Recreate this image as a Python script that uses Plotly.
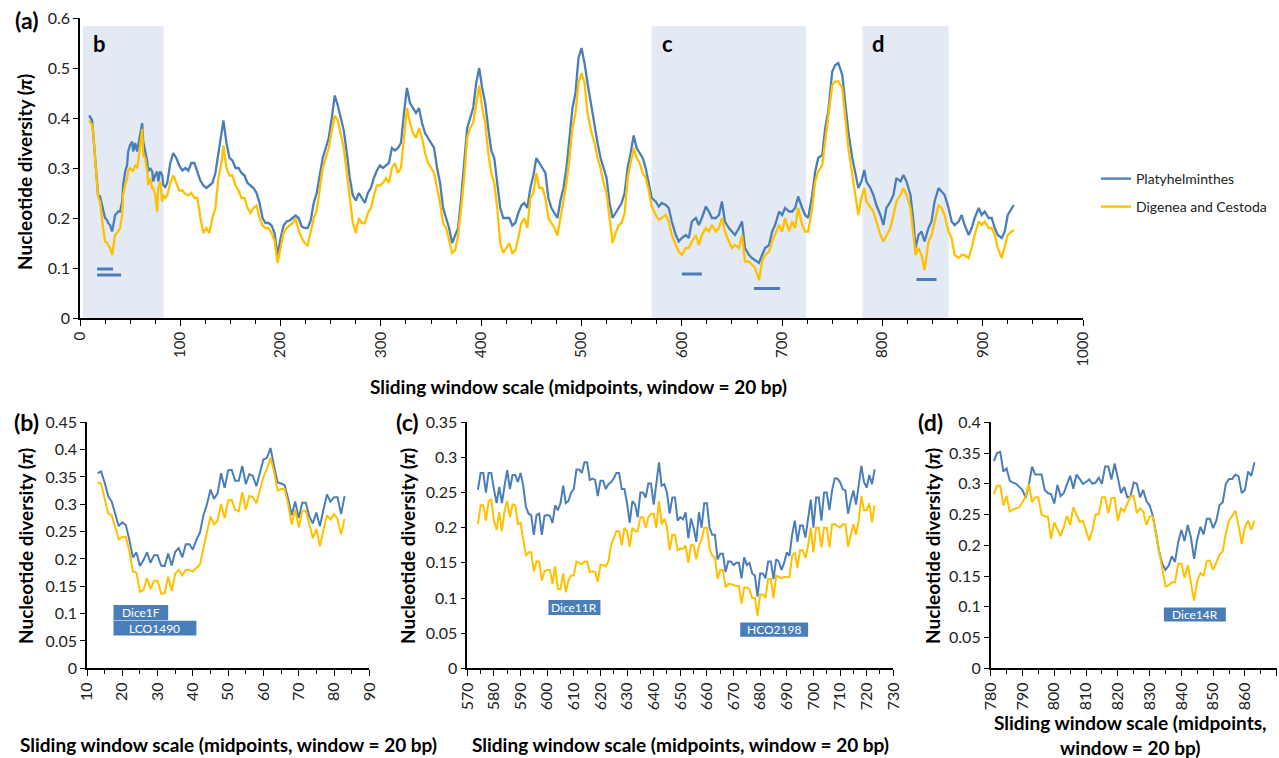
import plotly.graph_objects as go

W, H = 1279, 758
FONT = "Lato, sans-serif"
BLUE = "#4A7EBB"
GOLD = "#FFC000"
SHADE = "#E4EAF4"

series_names = ["Platyhelminthes", "Digenea and Cestoda"]

# ---------------- Panel (a): full alignment ----------------
a_x = [9, 12, 13, 15, 17, 18, 20, 22, 23, 25, 27, 28, 30, 32, 33, 35, 37, 38, 40, 42,
       43, 45, 47, 48, 50, 52, 53, 55, 57, 58, 60, 62, 63, 65, 67, 68, 70, 72, 73, 75,
       77, 78, 80, 82, 83,
       85, 87, 90, 93, 96, 99, 102, 105, 108, 111, 114, 117, 120, 123, 126, 129, 132, 135, 138, 141,
       143, 146, 149, 152, 155, 158, 161, 164, 167, 170, 173, 176, 179, 182, 185, 188, 191, 194, 197, 200,
       203, 206, 209, 212, 215, 218, 221, 224, 227, 230, 233, 236, 239, 242, 245, 248, 251, 254,
       257, 260, 263, 266, 269, 272, 275, 278, 281, 284, 287, 290, 293, 296, 299, 302, 305, 308, 311, 314,
       317, 320, 323, 326, 329, 332, 335, 338, 341, 344, 347, 350, 353, 356, 359, 362, 365, 368, 371, 374,
       377, 380, 383, 386, 389, 392, 395, 398, 401, 404, 407, 410, 413, 416, 419, 422, 425, 428, 431, 434,
       437, 440, 443, 446, 449, 452, 455, 458, 461, 464, 467, 470, 473, 476, 479, 482, 485, 488, 491, 494,
       497, 500, 503, 506,
       510, 513, 516, 519, 522, 525, 528, 531, 534, 537, 540, 543, 546, 549, 552, 555, 558, 561, 564, 567,
       570, 574, 577, 580, 584, 587, 590, 594, 597, 600, 604, 607, 610, 614, 617, 620, 624, 627, 630, 634,
       637, 640, 643, 647, 650, 653, 657, 660, 663, 667, 670, 673, 677, 680, 683, 687, 690, 693, 697, 700,
       703, 707, 710, 713, 716, 720, 723, 726, 730, 733, 736, 740, 743, 746, 750, 753, 756,
       760, 763, 766, 770, 773, 776, 779, 782, 784, 788, 791, 794, 798, 801, 804, 808, 811, 814, 818, 821,
       824, 828, 831, 833, 836, 839, 842, 846, 849, 852, 856, 859, 862, 866, 869, 872, 876, 879, 882, 886,
       889, 892, 896, 899, 902, 906, 909, 912, 915, 919, 922, 925, 929, 931]

a_platy = [0.405, 0.396, 0.373, 0.326, 0.286, 0.246, 0.243, 0.226, 0.213, 0.2,
           0.196, 0.19, 0.186, 0.173, 0.183, 0.206, 0.21, 0.213, 0.213, 0.233,
           0.266, 0.293, 0.306, 0.333, 0.346, 0.353, 0.333, 0.35, 0.333, 0.346,
           0.373, 0.39, 0.353, 0.333, 0.313, 0.293, 0.3, 0.293, 0.273, 0.286,
           0.293, 0.273, 0.293, 0.286, 0.266,
           0.262, 0.27, 0.31, 0.33, 0.32, 0.305, 0.295, 0.3, 0.295, 0.31,
           0.31, 0.29, 0.275, 0.265, 0.26, 0.265, 0.27, 0.29, 0.33, 0.36,
           0.395, 0.35, 0.32, 0.315, 0.3, 0.3, 0.29, 0.285, 0.27, 0.265,
           0.26, 0.25, 0.23, 0.2, 0.19, 0.19, 0.185, 0.17, 0.125, 0.16,
           0.185, 0.193, 0.195, 0.2, 0.205, 0.2, 0.183, 0.18, 0.18, 0.195,
           0.23, 0.25, 0.29, 0.32, 0.34, 0.36, 0.4, 0.445,
           0.425, 0.40, 0.375, 0.33, 0.28, 0.245, 0.235, 0.25, 0.24, 0.23,
           0.25, 0.26, 0.28, 0.295, 0.305, 0.3, 0.305, 0.31, 0.34, 0.335,
           0.34, 0.35, 0.41, 0.46, 0.43, 0.42, 0.41, 0.42, 0.39, 0.37,
           0.36, 0.35, 0.34, 0.3, 0.27, 0.22, 0.2, 0.18, 0.15, 0.165,
           0.18, 0.24, 0.31, 0.38, 0.4, 0.42, 0.47, 0.5, 0.46, 0.43,
           0.38, 0.335, 0.32, 0.27, 0.22, 0.2, 0.2, 0.2, 0.185, 0.19,
           0.21, 0.225, 0.23, 0.22, 0.26, 0.285, 0.32, 0.31, 0.3, 0.29,
           0.24, 0.22, 0.21, 0.2, 0.235, 0.26, 0.3, 0.36, 0.42, 0.45,
           0.52, 0.54, 0.51, 0.47,
           0.42, 0.39, 0.35, 0.32, 0.3, 0.28, 0.23, 0.2, 0.21, 0.22,
           0.23, 0.25, 0.3, 0.33, 0.365, 0.34, 0.33, 0.32, 0.3, 0.27,
           0.24, 0.233, 0.223, 0.23, 0.226, 0.22, 0.193, 0.166, 0.153, 0.16,
           0.166, 0.16, 0.193, 0.2, 0.186, 0.2, 0.223, 0.213, 0.2, 0.2,
           0.206, 0.233, 0.193, 0.18, 0.173, 0.166, 0.18, 0.193, 0.14, 0.126,
           0.12, 0.116, 0.11, 0.126, 0.14, 0.146, 0.173, 0.186, 0.213, 0.206,
           0.22, 0.213, 0.213, 0.22, 0.243, 0.22, 0.206, 0.2, 0.246, 0.293,
           0.32, 0.326, 0.38, 0.413, 0.493, 0.506, 0.51,
           0.486, 0.426, 0.373, 0.32, 0.286, 0.26, 0.273, 0.296, 0.273, 0.26,
           0.246, 0.226, 0.206, 0.186, 0.22, 0.233, 0.246, 0.28, 0.273, 0.286,
           0.273, 0.246, 0.193, 0.14, 0.166, 0.173, 0.153, 0.18, 0.193, 0.233,
           0.26, 0.253, 0.246, 0.22, 0.193, 0.186, 0.193, 0.206, 0.186, 0.166,
           0.18, 0.2, 0.22, 0.206, 0.213, 0.2, 0.2, 0.18, 0.166, 0.16,
           0.173, 0.206, 0.22, 0.226]

a_dig = [0.395, 0.386, 0.373, 0.313, 0.273, 0.243, 0.233, 0.193, 0.18, 0.153,
         0.15, 0.146, 0.14, 0.126, 0.14, 0.166, 0.17, 0.173, 0.18, 0.206,
         0.246, 0.266, 0.28, 0.293, 0.3, 0.296, 0.293, 0.306, 0.3, 0.313,
         0.346, 0.378, 0.326, 0.32, 0.293, 0.266, 0.28, 0.26, 0.26, 0.246,
         0.213, 0.26, 0.273, 0.233, 0.246,
         0.24, 0.245, 0.27, 0.285, 0.27, 0.255, 0.255, 0.248, 0.245, 0.25,
         0.24, 0.24, 0.2, 0.17, 0.18, 0.17, 0.2, 0.22, 0.28, 0.31,
         0.345, 0.3, 0.285, 0.285, 0.265, 0.255, 0.24, 0.24, 0.22, 0.21,
         0.22, 0.225, 0.2, 0.185, 0.18, 0.18, 0.17, 0.155, 0.11, 0.14,
         0.17, 0.18, 0.185, 0.19, 0.2, 0.175, 0.16, 0.15, 0.145, 0.17,
         0.2, 0.215, 0.26, 0.3, 0.32, 0.34, 0.375, 0.405,
         0.395, 0.37, 0.34, 0.29, 0.24, 0.19, 0.17, 0.2, 0.19, 0.19,
         0.21, 0.22, 0.245, 0.265, 0.265, 0.27, 0.28, 0.27, 0.3, 0.31,
         0.29, 0.3, 0.36, 0.42, 0.39, 0.37, 0.36, 0.38, 0.36, 0.33,
         0.31, 0.3, 0.29, 0.26, 0.23, 0.19, 0.18, 0.155, 0.13, 0.135,
         0.165, 0.22, 0.28, 0.36, 0.38, 0.39, 0.43, 0.465, 0.42, 0.39,
         0.33, 0.29, 0.27, 0.22, 0.15, 0.13, 0.14, 0.15, 0.13, 0.135,
         0.16, 0.19, 0.2, 0.18, 0.24, 0.25, 0.29, 0.26, 0.26, 0.24,
         0.2, 0.19, 0.18, 0.165, 0.2, 0.24, 0.27, 0.32, 0.38, 0.41,
         0.47, 0.49, 0.47, 0.41,
         0.37, 0.35, 0.32, 0.3, 0.27, 0.25, 0.2, 0.15, 0.17, 0.185,
         0.19, 0.21, 0.28, 0.31, 0.34, 0.32, 0.31, 0.29, 0.28, 0.255,
         0.223, 0.206, 0.196, 0.2, 0.206, 0.193, 0.166, 0.146, 0.133, 0.126,
         0.14, 0.14, 0.153, 0.166, 0.146, 0.166, 0.18, 0.173, 0.186, 0.173,
         0.18, 0.2, 0.173, 0.153, 0.14, 0.146, 0.14, 0.166, 0.113, 0.113,
         0.106, 0.1, 0.076, 0.113, 0.126, 0.133, 0.153, 0.166, 0.186, 0.173,
         0.2, 0.173, 0.193, 0.18, 0.22, 0.186, 0.173, 0.173, 0.22, 0.273,
         0.293, 0.306, 0.353, 0.4, 0.466, 0.473, 0.473,
         0.46, 0.406, 0.34, 0.286, 0.246, 0.206, 0.24, 0.26, 0.233, 0.22,
         0.213, 0.193, 0.166, 0.153, 0.166, 0.18, 0.206, 0.233, 0.246, 0.26,
         0.246, 0.22, 0.166, 0.126, 0.14, 0.126, 0.096, 0.153, 0.166, 0.193,
         0.226, 0.22, 0.206, 0.173, 0.16, 0.126, 0.12, 0.126, 0.126, 0.12,
         0.14, 0.166, 0.193, 0.186, 0.193, 0.18, 0.18, 0.166, 0.14, 0.12,
         0.146, 0.166, 0.173, 0.176]

# ---------------- Panel (b) ----------------
b_x = list(range(13, 84))
b_platy = [0.357, 0.36, 0.34, 0.315, 0.305, 0.28, 0.26, 0.267, 0.262, 0.235,
           0.203, 0.212, 0.187, 0.198, 0.212, 0.193, 0.207, 0.207, 0.188, 0.187,
           0.21, 0.188, 0.213, 0.22, 0.203, 0.227, 0.227, 0.217, 0.235, 0.248,
           0.28, 0.3, 0.327, 0.31, 0.32, 0.357, 0.33, 0.362, 0.363, 0.343,
           0.343, 0.37, 0.337, 0.355, 0.352, 0.333, 0.36, 0.382, 0.385, 0.403,
           0.37, 0.34, 0.338, 0.335, 0.31, 0.28, 0.305, 0.275, 0.303, 0.303,
           0.278, 0.265, 0.285, 0.26, 0.29, 0.318, 0.305, 0.313, 0.313, 0.282,
           0.315]
b_dig = [0.34, 0.338, 0.31, 0.283, 0.28, 0.258, 0.236, 0.24, 0.24, 0.215,
         0.177, 0.175, 0.14, 0.143, 0.165, 0.145, 0.16, 0.16, 0.137, 0.137,
         0.168, 0.142, 0.173, 0.18, 0.17, 0.18, 0.18, 0.177, 0.183, 0.19,
         0.22, 0.25, 0.278, 0.263, 0.27, 0.3, 0.275, 0.307, 0.308, 0.29,
         0.287, 0.322, 0.29, 0.315, 0.313, 0.302, 0.327, 0.35, 0.365, 0.385,
         0.36, 0.325, 0.328, 0.328, 0.3, 0.263, 0.29, 0.258, 0.288, 0.288,
         0.265, 0.238, 0.255, 0.223, 0.253, 0.28, 0.272, 0.282, 0.273, 0.245,
         0.273]

# ---------------- Panel (c) ----------------
c_x = list(range(574, 724))
c_platy = [0.254, 0.278, 0.278, 0.25, 0.278, 0.278, 0.255, 0.235, 0.258, 0.235,
           0.26, 0.282, 0.255, 0.275, 0.275, 0.265, 0.278, 0.26, 0.23, 0.22,
           0.218, 0.19, 0.218, 0.22, 0.19, 0.217, 0.218, 0.217, 0.207, 0.232,
           0.225, 0.235, 0.26, 0.235, 0.238, 0.25, 0.255, 0.283, 0.283, 0.278,
           0.293, 0.293, 0.268, 0.27, 0.268, 0.245, 0.267, 0.267, 0.255, 0.262,
           0.265, 0.27, 0.278, 0.278, 0.255, 0.255, 0.235, 0.207, 0.238, 0.233,
           0.215, 0.25, 0.25, 0.243, 0.263, 0.263, 0.233, 0.26, 0.293, 0.26,
           0.262, 0.25, 0.22, 0.243, 0.243, 0.21, 0.215, 0.212, 0.222, 0.185,
           0.213, 0.2, 0.18, 0.222, 0.2, 0.235, 0.235, 0.2, 0.19, 0.19,
           0.155, 0.163, 0.163, 0.137, 0.152, 0.152, 0.147, 0.15, 0.15, 0.128,
           0.158, 0.147, 0.15, 0.135, 0.132, 0.102, 0.135, 0.135, 0.128, 0.152,
           0.152, 0.127, 0.155, 0.152, 0.14, 0.15, 0.165, 0.16, 0.19, 0.21,
           0.18, 0.203, 0.203, 0.186, 0.215, 0.24, 0.2, 0.243, 0.243, 0.21,
           0.25, 0.25, 0.225, 0.253, 0.27, 0.27, 0.265, 0.255, 0.253, 0.22,
           0.238, 0.253, 0.233, 0.26, 0.288, 0.265, 0.257, 0.275, 0.262, 0.283]
c_dig = [0.205, 0.232, 0.232, 0.21, 0.238, 0.24, 0.21, 0.197, 0.222, 0.195,
         0.225, 0.238, 0.215, 0.233, 0.232, 0.205, 0.207, 0.185, 0.16, 0.165,
         0.165, 0.138, 0.152, 0.152, 0.125, 0.138, 0.14, 0.14, 0.12, 0.145,
         0.113, 0.113, 0.135, 0.108, 0.125, 0.132, 0.132, 0.152, 0.15, 0.148,
         0.152, 0.152, 0.137, 0.138, 0.137, 0.123, 0.147, 0.147, 0.145, 0.152,
         0.175, 0.185, 0.195, 0.195, 0.175, 0.2, 0.195, 0.173, 0.2, 0.195,
         0.195, 0.215, 0.215, 0.2, 0.215, 0.22, 0.22, 0.2, 0.238, 0.205,
         0.213, 0.2, 0.168, 0.19, 0.19, 0.168, 0.17, 0.17, 0.175, 0.15,
         0.175, 0.175, 0.155, 0.175, 0.183, 0.2, 0.2, 0.17, 0.16, 0.158,
         0.127, 0.14, 0.14, 0.115, 0.12, 0.12, 0.118, 0.117, 0.117, 0.092,
         0.115, 0.115, 0.112, 0.1, 0.1, 0.075, 0.105, 0.105, 0.1, 0.127,
         0.127, 0.1, 0.132, 0.13, 0.128, 0.13, 0.13, 0.13, 0.16, 0.165,
         0.143, 0.168, 0.168, 0.157, 0.175, 0.2, 0.165, 0.2, 0.2, 0.172,
         0.2, 0.2, 0.172, 0.205, 0.205, 0.203, 0.2, 0.205, 0.205, 0.173,
         0.19, 0.205, 0.19, 0.21, 0.245, 0.225, 0.225, 0.235, 0.208, 0.232]

# ---------------- Panel (d) ----------------
d_x = list(range(781, 864))
d_platy = [0.337, 0.35, 0.352, 0.32, 0.325, 0.305, 0.302, 0.3, 0.295, 0.29,
           0.277, 0.298, 0.328, 0.315, 0.315, 0.315, 0.29, 0.285, 0.283, 0.268,
           0.298, 0.28, 0.285, 0.298, 0.313, 0.292, 0.315, 0.308, 0.3, 0.303,
           0.307, 0.3, 0.302, 0.31, 0.3, 0.328, 0.328, 0.307, 0.333, 0.31,
           0.285, 0.295, 0.278, 0.28, 0.302, 0.3, 0.278, 0.29, 0.272, 0.265,
           0.248, 0.22, 0.19, 0.17, 0.16, 0.167, 0.182, 0.173, 0.205, 0.225,
           0.207, 0.233, 0.213, 0.178, 0.21, 0.23, 0.218, 0.243, 0.243, 0.228,
           0.24, 0.265, 0.27, 0.3, 0.308, 0.308, 0.315, 0.312, 0.285, 0.29,
           0.32, 0.313, 0.335]
d_dig = [0.283, 0.297, 0.297, 0.265, 0.28, 0.255, 0.258, 0.26, 0.262, 0.27,
         0.28, 0.3, 0.27, 0.278, 0.278, 0.25, 0.247, 0.247, 0.21, 0.237,
         0.225, 0.215, 0.23, 0.248, 0.233, 0.262, 0.25, 0.238, 0.24, 0.222,
         0.208, 0.225, 0.25, 0.25, 0.278, 0.278, 0.252, 0.277, 0.277, 0.24,
         0.26, 0.255, 0.268, 0.28, 0.28, 0.252, 0.26, 0.255, 0.233, 0.247,
         0.247, 0.22, 0.19, 0.16, 0.133, 0.135, 0.14, 0.14, 0.17, 0.17,
         0.147, 0.168, 0.14, 0.11, 0.142, 0.155, 0.15, 0.175, 0.175, 0.16,
         0.172, 0.185, 0.19, 0.22, 0.24, 0.248, 0.256, 0.232, 0.202, 0.23,
         0.24, 0.225, 0.24]

# Primer sites (name, start, end) and zoomed regions (label, start, end)
primer_names = ["Dice1F", "LCO1490", "Dice11R", "HCO2198", "Dice14R"]
primer_start = [17, 17, 600, 672, 834]
primer_end = [33, 41, 620, 698, 854]
region_labels = ["b", "c", "d"]
region_start = [3, 570, 780]
region_end = [83.5, 724, 866]


def px(x):
    return x / W


def py(y):
    return 1 - y / H


fig = go.Figure()

fig.add_trace(go.Scatter(x=a_x, y=a_platy, mode="lines", name=series_names[0],
                         line=dict(color=BLUE, width=2.3), xaxis="x", yaxis="y",
                         legend="legend"))
fig.add_trace(go.Scatter(x=a_x, y=a_dig, mode="lines", name=series_names[1],
                         line=dict(color=GOLD, width=2.3), xaxis="x", yaxis="y",
                         legend="legend2"))

for (xs, p, d, ax) in [(b_x, b_platy, b_dig, "2"), (c_x, c_platy, c_dig, "3"), (d_x, d_platy, d_dig, "4")]:
    fig.add_trace(go.Scatter(x=xs, y=p, mode="lines", name=series_names[0], showlegend=False,
                             line=dict(color=BLUE, width=2), xaxis="x" + ax, yaxis="y" + ax))
    fig.add_trace(go.Scatter(x=xs, y=d, mode="lines", name=series_names[1], showlegend=False,
                             line=dict(color=GOLD, width=2), xaxis="x" + ax, yaxis="y" + ax))

shapes = []
annotations = []

for lab, s, e in zip(region_labels, region_start, region_end):
    shapes.append(dict(type="rect", xref="x", yref="y", x0=s, x1=e, y0=0, y1=0.584,
                       fillcolor=SHADE, line=dict(width=0), layer="below"))
    annotations.append(dict(xref="x", yref="y", x=s + 8, y=0.55, text="<b>%s</b>" % lab,
                            showarrow=False, xanchor="left", yanchor="middle",
                            font=dict(family=FONT, size=22, color="black")))

bar_y = [0.098, 0.086, 0.088, 0.059, 0.077]
for s, e, yv in zip(primer_start, primer_end, bar_y):
    shapes.append(dict(type="line", xref="x", yref="y", x0=s, x1=e, y0=yv, y1=yv,
                       line=dict(color=BLUE, width=3)))

box_axis = ["2", "2", "3", "3", "4"]
box_y0 = [0.088, 0.060, 0.076, 0.045, 0.076]
box_y1 = [0.116, 0.087, 0.097, 0.065, 0.099]
for name, s, e, ax, y0, y1 in zip(primer_names, primer_start, primer_end, box_axis, box_y0, box_y1):
    shapes.append(dict(type="rect", xref="x" + ax, yref="y" + ax, x0=s + 0.5, x1=e, y0=y0, y1=y1,
                       fillcolor=BLUE, line=dict(width=0)))
    annotations.append(dict(xref="x" + ax, yref="y" + ax, x=(s + 0.5 + e) / 2, y=(y0 + y1) / 2,
                            text=name, showarrow=False, xanchor="center", yanchor="middle",
                            font=dict(family=FONT, size=12, color="white")))

for txt, x, y in [("(a)", 26, 20), ("(b)", 26, 422), ("(c)", 407, 422), ("(d)", 930, 422)]:
    annotations.append(dict(xref="paper", yref="paper", x=px(x), y=py(y), text="<b>%s</b>" % txt,
                            showarrow=False, xanchor="center", yanchor="middle",
                            font=dict(family=FONT, size=23, color="black")))

ytitle = "<b>Nucleotide diversity (<i>π</i>)</b>"
xtitle = "<b>Sliding window scale (midpoints, window = 20 bp)</b>"
for x, y in [(25, 172), (25, 546), (407, 546), (932, 546)]:
    annotations.append(dict(xref="paper", yref="paper", x=px(x), y=py(y), text=ytitle,
                            textangle=-90, showarrow=False, xanchor="center", yanchor="middle",
                            font=dict(family=FONT, size=19, color="black")))
for x, y in [(578, 386), (228, 744), (680, 744)]:
    annotations.append(dict(xref="paper", yref="paper", x=px(x), y=py(y), text=xtitle,
                            showarrow=False, xanchor="center", yanchor="middle",
                            font=dict(family=FONT, size=19, color="black")))
annotations.append(dict(xref="paper", yref="paper", x=px(1130), y=py(735),
                        text="<b>Sliding window scale (midpoints,<br>window = 20 bp)</b>",
                        showarrow=False, xanchor="center", yanchor="middle",
                        font=dict(family=FONT, size=19, color="black")))


def xaxis(dom, rng, dtick, minor, fs, anchor):
    return dict(domain=dom, range=rng, dtick=dtick, tick0=0, tickangle=-90, anchor=anchor,
                automargin=False, showline=True, linecolor="black", linewidth=1.6,
                ticks="outside", ticklen=6, tickwidth=1.2, tickcolor="black",
                showgrid=False, zeroline=False,
                minor=dict(dtick=minor, tick0=0, ticks="outside", ticklen=4, tickcolor="black",
                           tickwidth=1.2, showgrid=False),
                tickfont=dict(family=FONT, size=fs, color="#222"))


def yaxis(dom, rng, vals, fs, anchor):
    return dict(domain=dom, range=rng, tickvals=vals, ticktext=[("%g" % v) for v in vals],
                anchor=anchor, automargin=False, showline=True, linecolor="black", linewidth=1.6,
                ticks="outside", ticklen=5, tickwidth=1.2, tickcolor="black",
                showgrid=False, zeroline=False,
                tickfont=dict(family=FONT, size=fs, color="#222"))


ydom_small = [py(668.3), py(422.3)]
fig.update_layout(
    width=W, height=H, margin=dict(l=0, r=0, t=0, b=0, autoexpand=False),
    paper_bgcolor="white", plot_bgcolor="white",
    font=dict(family=FONT, color="black"),
    xaxis=xaxis([px(80), px(1083)], [0, 1000], 100, 25, 15, "y"),
    yaxis=yaxis([py(318), py(18)], [0, 0.6], [0, 0.1, 0.2, 0.3, 0.4, 0.5, 0.6], 16, "x"),
    xaxis2=xaxis([px(87), px(369.3)], [10, 90], 10, 5, 16, "y2"),
    yaxis2=yaxis(ydom_small, [0, 0.45], [0, 0.05, 0.1, 0.15, 0.2, 0.25, 0.3, 0.35, 0.4, 0.45], 16, "x2"),
    xaxis3=xaxis([px(467.3), px(893.3)], [570, 730], 10, 5, 16, "y3"),
    yaxis3=yaxis(ydom_small, [0, 0.35], [0, 0.05, 0.1, 0.15, 0.2, 0.25, 0.3, 0.35], 16, "x3"),
    xaxis4=xaxis([px(990.7), px(1276.7)], [780, 870], 10, 5, 16, "y4"),
    yaxis4=yaxis(ydom_small, [0, 0.4], [0, 0.05, 0.1, 0.15, 0.2, 0.25, 0.3, 0.35, 0.4], 16, "x4"),
    shapes=shapes, annotations=annotations,
    legend=dict(x=px(1096), y=py(179), xanchor="left", yanchor="middle",
                bgcolor="rgba(0,0,0,0)", font=dict(family=FONT, size=14, color="#222")),
    legend2=dict(x=px(1096), y=py(207), xanchor="left", yanchor="middle",
                 bgcolor="rgba(0,0,0,0)", font=dict(family=FONT, size=14, color="#222")),
)

fig.write_html("out.html", config={"displayModeBar": False},
               post_script="document.body.style.margin='0';document.body.style.overflow='hidden';")
